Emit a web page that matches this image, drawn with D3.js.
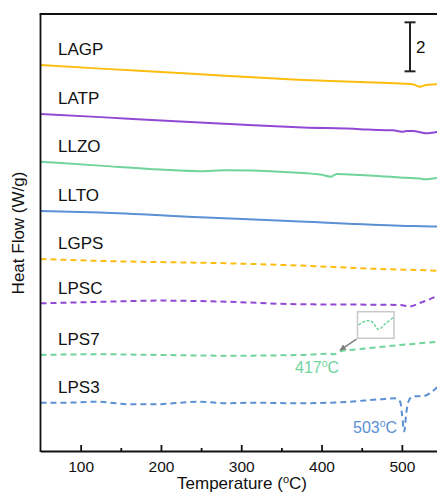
<!DOCTYPE html>
<html>
<head>
<meta charset="utf-8">
<script src="https://cdn.jsdelivr.net/npm/d3@7"></script>
<style>
  body { margin: 0; background: #fff; }
  svg { display: block; font-family: "Liberation Sans", Arial, sans-serif; }
</style>
</head>
<body>
<div id="chart"></div>
<script>
// ── data (heat flow in W/g, curves stacked with offsets) ─────────
const names  = ['LAGP', 'LATP', 'LLZO', 'LLTO', 'LGPS', 'LPSC', 'LPS7', 'LPS3']
const colors = ['#FDBD10', '#9148D4', '#70D49C', '#5B90D4', '#FDBD10', '#9148D4', '#70D49C', '#5B90D4']
const dashed = [false, false, false, false, true, true, true, true]

const lagpT = [50, 125, 200, 285, 370, 448, 498, 515, 522, 530, 544, 550]
const lagpV = [15.76, 15.61, 15.47, 15.31, 15.16, 15.06, 15.0, 14.96, 14.87, 14.94, 14.97, 14.96]

const latpT = [50, 125, 200, 286, 370, 448, 473, 489, 500, 506, 514, 526, 531, 537, 544, 550]
const latpV = [13.76, 13.63, 13.49, 13.35, 13.22, 13.14, 13.10, 13.09, 13.03, 13.06, 13.06, 12.99, 12.97, 12.99, 13.02, 13.02]

const llzoT = [50, 124, 199, 249, 280, 348, 398, 412, 416, 419, 448, 473, 498, 523, 529, 544, 550]
const llzoV = [11.81, 11.65, 11.49, 11.42, 11.46, 11.40, 11.29, 11.20, 11.27, 11.31, 11.27, 11.22, 11.17, 11.12, 11.09, 11.14, 11.14]

const lltoT = [50, 124, 249, 373, 498, 544, 550]
const lltoV = [9.80, 9.74, 9.54, 9.37, 9.20, 9.16, 9.15]

const lgpsT = [50, 124, 286, 373, 473, 544, 550]
const lgpsV = [7.84, 7.76, 7.66, 7.57, 7.43, 7.36, 7.35]

const lpscT = [50, 124, 199, 286, 373, 435, 498, 510, 523, 535, 544, 550]
const lpscV = [6.03, 6.09, 6.14, 6.09, 5.99, 5.98, 5.96, 5.90, 6.05, 6.20, 6.33, 6.42]

const lps7T = [50, 124, 199, 286, 373, 410, 416, 423, 448, 498, 544, 550]
const lps7V = [3.92, 3.95, 3.92, 3.89, 3.92, 3.97, 3.95, 4.07, 4.16, 4.33, 4.46, 4.48]

const lps3T = [50, 78, 120, 161, 195, 245, 286, 311, 373, 423, 473, 491, 498, 500, 503, 505.5, 508, 513, 529, 535, 544, 550]
const lps3V = [1.97, 1.97, 2.01, 1.91, 1.91, 2.01, 1.95, 1.97, 1.95, 1.99, 2.11, 2.15, 2.01, 1.55, 0.80, 1.55, 2.0, 2.22, 2.26, 2.36, 2.60, 2.75]

const temps  = [lagpT, latpT, llzoT, lltoT, lgpsT, lpscT, lps7T, lps3T]
const values = [lagpV, latpV, llzoV, lltoV, lgpsV, lpscV, lps7V, lps3V]

// inset: zoom of the LPS7 feature around 417 °C (relative units)
const insetT = [405, 411, 414.5, 419.3, 424, 430]
const insetV = [0, 0.39, 0.30, -0.39, 0.09, 0.70]

const majorTicks = [100, 200, 300, 400, 500]
const minorTicks = [150, 250, 350, 450]

// ── layout ───────────────────────────────────────────────────────
const W = 437, H = 502
const LEFT = 40.5, TOP = 14, BOTTOM = 451

const svg = d3.select('#chart').append('svg')
  .attr('width', W)
  .attr('height', H)

const x = d3.scaleLinear().domain([50, 550]).range([LEFT, 442])
const y = d3.scaleLinear().domain([0, 17.84]).range([BOTTOM, TOP])

const line = d3.line()
  .x(d => x(d[0]))
  .y(d => y(d[1]))
  .curve(d3.curveMonotoneX)

// ── curves ───────────────────────────────────────────────────────
const series = names.map((name, i) => ({
  name,
  color: colors[i],
  dashed: dashed[i],
  points: temps[i].map((t, j) => [t, values[i][j]])
}))

const gLines = svg.append('g').attr('class', 'lines')
gLines.selectAll('path')
  .data(series)
  .enter().append('path')
  .attr('d', d => line(d.points))
  .attr('fill', 'none')
  .attr('stroke', d => d.color)
  .attr('stroke-width', 2)
  .attr('stroke-dasharray', d => d.dashed ? '6,4' : null)

gLines.selectAll('text')
  .data(series)
  .enter().append('text')
  .attr('x', 58)
  .attr('y', d => y(d.points[0][1]) - 9.5)
  .attr('font-size', 17)
  .attr('fill', '#111')
  .text(d => d.name)

// ── axes / frame ─────────────────────────────────────────────────
const gx = svg.append('g')
  .attr('transform', `translate(0,${BOTTOM})`)
  .call(d3.axisBottom(x).tickValues(majorTicks).tickSizeInner(-6).tickSizeOuter(0).tickPadding(9.5))
gx.select('.domain').attr('stroke-width', 1.8).attr('stroke', '#111')
gx.selectAll('.tick line').attr('stroke-width', 1.8).attr('stroke', '#111')
gx.selectAll('text').attr('font-size', 15.5).attr('fill', '#111')
  .attr('font-family', '"Liberation Sans", Arial, sans-serif')

const gxMinor = svg.append('g')
  .attr('transform', `translate(0,${BOTTOM})`)
  .call(d3.axisBottom(x).tickValues(minorTicks).tickSizeInner(-3).tickSizeOuter(0).tickFormat(''))
gxMinor.select('.domain').remove()
gxMinor.selectAll('.tick line').attr('stroke-width', 1.8).attr('stroke', '#111')

svg.append('line')
  .attr('x1', LEFT).attr('x2', LEFT)
  .attr('y1', TOP).attr('y2', BOTTOM + 0.9)
  .attr('stroke', '#111').attr('stroke-width', 1.8)
svg.append('line')
  .attr('x1', LEFT - 0.9).attr('x2', W)
  .attr('y1', TOP).attr('y2', TOP)
  .attr('stroke', '#111').attr('stroke-width', 1.8)

// axis titles
const xTitle = svg.append('text')
  .attr('x', 242).attr('y', 489)
  .attr('text-anchor', 'middle')
  .attr('font-size', 17)
  .attr('fill', '#111')
xTitle.append('tspan').text('Temperature (')
xTitle.append('tspan').attr('dy', -6).attr('font-size', 11).text('o')
xTitle.append('tspan').attr('dy', 6).text('C)')

svg.append('text')
  .attr('transform', 'translate(24,233) rotate(-90)')
  .attr('text-anchor', 'middle')
  .attr('font-size', 17)
  .attr('fill', '#111')
  .text('Heat Flow (W/g)')

// ── scale bar (2 W/g) ────────────────────────────────────────────
const barX = 410, barTop = y(17.5), barBot = y(15.5)
const gBar = svg.append('g').attr('stroke', '#222').attr('stroke-width', 2)
gBar.append('line').attr('x1', barX).attr('x2', barX).attr('y1', barTop).attr('y2', barBot)
gBar.append('line').attr('x1', barX - 5.5).attr('x2', barX + 5.5).attr('y1', barTop).attr('y2', barTop)
gBar.append('line').attr('x1', barX - 5.5).attr('x2', barX + 5.5).attr('y1', barBot).attr('y2', barBot)
svg.append('text')
  .attr('x', 416).attr('y', (barTop + barBot) / 2 + 6)
  .attr('font-size', 17)
  .attr('fill', '#111')
  .text('2')

// ── annotations ──────────────────────────────────────────────────
function degLabel(tx, ty, num, color) {
  const t = svg.append('text')
    .attr('x', tx).attr('y', ty)
    .attr('font-size', 16)
    .attr('fill', color)
  t.append('tspan').text(num)
  t.append('tspan').attr('dy', -6).attr('font-size', 10.5).text('o')
  t.append('tspan').attr('dy', 6).text('C')
}
degLabel(295, 373, '417', colors[6])
degLabel(353, 432.5, '503', colors[7])

// inset box with zoomed LPS7 feature
const box = { x0: 357.5, x1: 394, y0: 311.7, y1: 338.3 }
svg.append('rect')
  .attr('x', box.x0).attr('y', box.y0)
  .attr('width', box.x1 - box.x0).attr('height', box.y1 - box.y0)
  .attr('fill', '#fff')
  .attr('stroke', '#c8c8c8').attr('stroke-width', 1.5)

const ix = d3.scaleLinear().domain([405, 430]).range([box.x0 + 1, box.x1 - 0.5])
const iy = d3.scaleLinear().domain([-1, 1]).range([336, 314])
svg.append('path')
  .attr('d', d3.line().x(d => ix(d[0])).y(d => iy(d[1])).curve(d3.curveCatmullRom)(insetT.map((t, i) => [t, insetV[i]])))
  .attr('fill', 'none')
  .attr('stroke', colors[6])
  .attr('stroke-width', 1.5)
  .attr('stroke-dasharray', '3,1.5')

// arrow from inset to the 417 °C feature
svg.append('defs').append('marker')
  .attr('id', 'arrow')
  .attr('viewBox', '0 0 10 10')
  .attr('refX', 9).attr('refY', 5)
  .attr('markerWidth', 4).attr('markerHeight', 4)
  .attr('orient', 'auto')
  .append('path')
  .attr('d', 'M0,0L10,5L0,10Z')
  .attr('fill', '#808080')

svg.append('line')
  .attr('x1', 356.5).attr('y1', 339.2)
  .attr('x2', x(423)).attr('y2', y(4.12))
  .attr('stroke', '#808080')
  .attr('stroke-width', 1.6)
  .attr('marker-end', 'url(#arrow)')
</script>
</body>
</html>
